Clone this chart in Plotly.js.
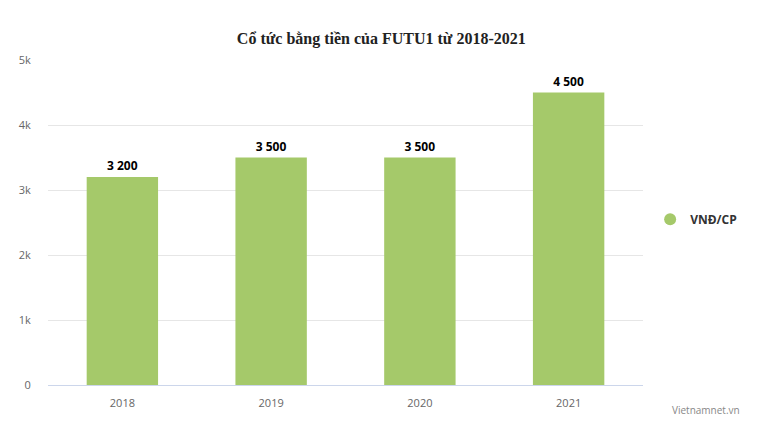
<!DOCTYPE html>
<html>
<head>
<meta charset="utf-8">
<script src="https://cdn.plot.ly/plotly-3.0.1.min.js"></script>
<style>html,body{margin:0;padding:0;background:#fff;}#chart{width:783px;height:442px;}</style>
</head>
<body>
<div id="chart"></div>
<script>
const years = ['2018', '2019', '2020', '2021'];
const dividends = [3200, 3500, 3500, 4500];
const seriesName = 'VNĐ/CP';
const barColor = '#a5c96a';

const traces = [
  {
    type: 'bar',
    x: years,
    y: dividends,
    marker: {color: barColor},
    texttemplate: '%{y:,}',
    textposition: 'outside',
    textfont: {family: 'Open Sans, sans-serif', size: 12, color: '#000', weight: 'bold'},
    cliponaxis: false,
    showlegend: false,
    hoverinfo: 'x+y'
  },
  {
    type: 'scatter',
    mode: 'markers',
    x: [null],
    y: [null],
    name: seriesName,
    marker: {color: barColor, symbol: 'circle', size: 12},
    showlegend: true
  }
];

const layout = {
  width: 783,
  height: 442,
  margin: {l: 48, r: 140, t: 60, b: 57},
  paper_bgcolor: '#fff',
  plot_bgcolor: '#fff',
  separators: '. ',
  bargap: 0.52,
  title: {
    text: '<b>Cổ tức bằng tiền của FUTU1 từ 2018-2021</b>',
    font: {family: 'Liberation Serif, Times New Roman, serif', size: 16, color: '#222'},
    x: 0.487, xanchor: 'center', y: 0.912, yanchor: 'middle'
  },
  xaxis: {
    type: 'category',
    showgrid: false,
    showline: true,
    linecolor: '#ccd6eb',
    linewidth: 1,
    ticks: 'outside',
    ticklen: 8,
    tickcolor: 'rgba(0,0,0,0)',
    tickfont: {family: 'Open Sans, sans-serif', size: 11, color: '#666'}
  },
  yaxis: {
    range: [0, 5000],
    dtick: 1000,
    tickformat: '~s',
    showgrid: true,
    gridcolor: '#e6e6e6',
    zeroline: false,
    showline: false,
    ticks: 'outside',
    ticklen: 14,
    tickcolor: 'rgba(0,0,0,0)',
    tickfont: {family: 'Open Sans, sans-serif', size: 11, color: '#666'}
  },
  legend: {
    x: 1.012, xanchor: 'left',
    y: 0.51, yanchor: 'middle',
    font: {family: 'Open Sans, sans-serif', size: 12, color: '#333', weight: 'bold'},
    bgcolor: 'rgba(0,0,0,0)'
  },
  annotations: [{
    text: 'Vietnamnet.vn',
    xref: 'paper', yref: 'paper',
    x: 1.106, y: -0.077, xanchor: 'center', yanchor: 'middle',
    showarrow: false,
    font: {family: 'Open Sans, sans-serif', size: 10, color: '#888'}
  }]
};

Plotly.newPlot('chart', traces, layout, {displayModeBar: false, responsive: false});
</script>
</body>
</html>
